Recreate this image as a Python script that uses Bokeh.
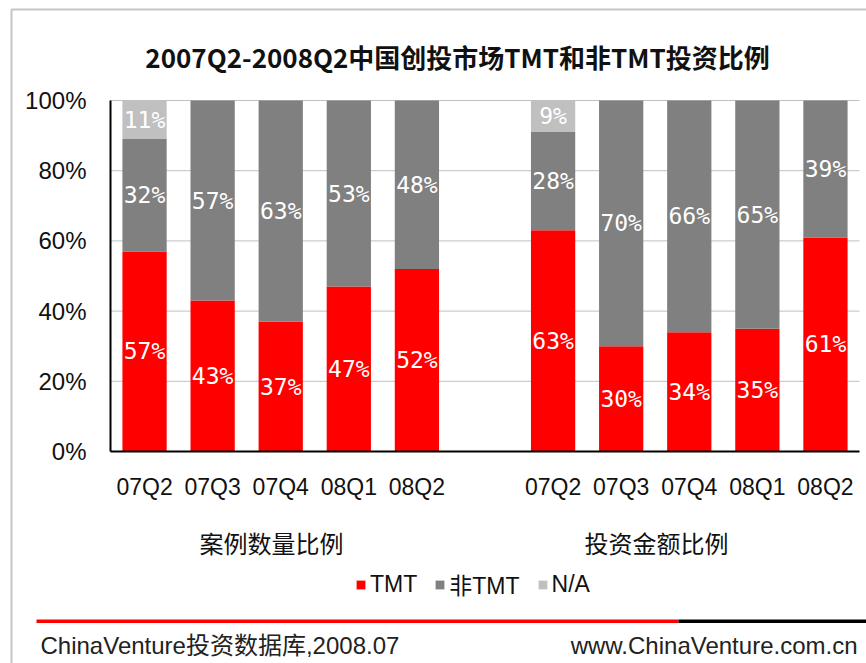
from bokeh.plotting import figure
from bokeh.models import (ColumnDataSource, Range1d, FixedTicker, PrintfTickFormatter,
                          LinearAxis, Legend, LegendItem, Label, BoxAnnotation)
from bokeh.core.properties import value
from bokeh.embed import file_html
from bokeh.resources import INLINE

# ---------------- data ----------------
title = "2007Q2-2008Q2中国创投市场TMT和非TMT投资比例"
quarters = ["07Q2", "07Q3", "07Q4", "08Q1", "08Q2"]
groups = ["案例数量比例", "投资金额比例"]
series_names = ["TMT", "非TMT", "N/A"]

tmt_count = [57, 43, 37, 47, 52]
non_tmt_count = [32, 57, 63, 53, 48]
na_count = [11, 0, 0, 0, 0]

tmt_amount = [63, 30, 34, 35, 61]
non_tmt_amount = [28, 70, 66, 65, 39]
na_amount = [9, 0, 0, 0, 0]

y_ticks = [0, 20, 40, 60, 80, 100]
source_note = "ChinaVenture投资数据库,2008.07"
site_note = "www.ChinaVenture.com.cn"

# ---------------- styles ----------------
RED = "#FF0000"
GRAY = "#808080"
LGRAY = "#C0C0C0"
LATIN = "Liberation Sans, Noto Sans CJK SC"
CJK = "Noto Sans CJK SC"
TXT = "#111111"

W, H = 866, 663
FRAME_L, FRAME_R = 110, 859      # plot area edges (page px)
Y_ZERO, Y_FULL = 451, 100        # 0% and 100% (page px)
N_SLOTS = 11
SLOT = (FRAME_R - FRAME_L) / N_SLOTS
PX_PER_PCT = (Y_ZERO - Y_FULL) / 100.0


def sx(px):
    return (px - FRAME_L) / SLOT - 0.5


def sy(py):
    return (Y_ZERO - py) / PX_PER_PCT


# slot positions: 5 bars, one empty slot, 5 bars
xs = list(range(len(quarters))) + [i + len(quarters) + 1 for i in range(len(quarters))]
tmt = tmt_count + tmt_amount
non = non_tmt_count + non_tmt_amount
na = na_count + na_amount
src = ColumnDataSource(dict(x=xs, tmt=tmt, non=non, na=na))

p = figure(width=W, height=H, output_backend="svg", toolbar_location=None,
           x_range=Range1d(sx(0), sx(W)), y_range=Range1d(sy(H), sy(0)),
           x_axis_location=None, y_axis_location=None,
           min_border_left=0, min_border_right=0, min_border_top=0, min_border_bottom=0)
p.outline_line_color = None
p.background_fill_color = "white"
p.border_fill_color = "white"
p.grid.visible = False

x_lo, x_hi = -0.5, N_SLOTS - 0.5

# horizontal gridlines across the plot area
p.segment(x0=[x_lo] * len(y_ticks), x1=[x_hi] * len(y_ticks), y0=y_ticks, y1=y_ticks,
          line_color="#C0C0C0", line_width=1)

rs = p.vbar_stack(["tmt", "non", "na"], x="x", width=0.65,
                  fill_color=[RED, GRAY, LGRAY], line_color=None, source=src)

# value labels centred in each segment
lx, ly, lt = [], [], []
for i, x in enumerate(xs):
    base = 0
    for vals in (tmt, non, na):
        v = vals[i]
        if v > 0:
            lx.append(x)
            ly.append(base + v / 2.0)
            lt.append(f"{v}%")
        base += v
lsrc = ColumnDataSource(dict(x=lx, y=ly, t=lt))
p.text(x="x", y="y", text="t", source=lsrc, text_color="white",
       text_font=value("DejaVu Sans Mono"), text_font_size="23px",
       text_align="center", text_baseline="middle")

# axes at fixed locations
yax = LinearAxis(fixed_location=x_lo, bounds=(0, 100), ticker=FixedTicker(ticks=y_ticks),
                 formatter=PrintfTickFormatter(format="%d%%"),
                 major_label_standoff=24, major_label_text_font_size="24px")
xax = LinearAxis(fixed_location=0, bounds=(x_lo, x_hi), ticker=FixedTicker(ticks=xs),
                 major_label_overrides={x: q for x, q in zip(xs, quarters * 2)},
                 major_label_standoff=22, major_label_text_font_size="23px")
for ax in (xax, yax):
    ax.axis_line_color = "black"
    ax.axis_line_width = 2
    ax.major_tick_out = 0
    ax.major_tick_in = 0
    ax.minor_tick_out = 0
    ax.minor_tick_in = 0
    ax.major_label_text_font = "Liberation Sans"
    ax.major_label_text_color = TXT
p.add_layout(yax, "left")
p.add_layout(xax, "below")

# title
p.add_layout(Label(x=sx(457), y=sy(56), text=title, text_align="center",
                   text_baseline="middle", text_font=CJK, text_font_style="bold",
                   text_font_size="26px", text_color=TXT))
# group labels
for gx, g in zip((271, 656), groups):
    p.add_layout(Label(x=sx(gx), y=sy(542), text=g, text_align="center",
                       text_baseline="middle", text_font=CJK, text_font_size="24px",
                       text_color=TXT))

# legend
legend = Legend(items=[LegendItem(label=n, renderers=[r]) for n, r in zip(series_names, rs)],
                orientation="horizontal", location=(355, H - 601),
                glyph_width=11, glyph_height=11, label_standoff=4, spacing=17,
                padding=0, margin=0, border_line_color=None,
                background_fill_alpha=0, label_text_font=LATIN,
                label_text_font_size="23px", label_text_color=TXT)
p.add_layout(legend, "center")

# outer frame (top and left edges visible)
p.add_layout(BoxAnnotation(left=sx(11), right=sx(W + 40), top=sy(9), bottom=sy(H + 40),
                           fill_alpha=0, line_color="#404040", line_width=2))
# footer rule
p.add_layout(BoxAnnotation(left=sx(36), right=sx(678), top=sy(619), bottom=sy(622.5),
                           fill_color=RED, fill_alpha=1, line_color=None))
p.add_layout(BoxAnnotation(left=sx(678), right=sx(W + 40), top=sy(619), bottom=sy(622.5),
                           fill_color="black", fill_alpha=1, line_color=None))
# footer texts
p.add_layout(Label(x=sx(40), y=sy(645), text=source_note, text_align="left",
                   text_baseline="middle", text_font=LATIN, text_font_size="24px",
                   text_color="#222222"))
p.add_layout(Label(x=sx(857), y=sy(645), text=site_note, text_align="right",
                   text_baseline="middle", text_font=LATIN, text_font_size="24px",
                   text_color="#222222"))

open("out.html", "w").write(file_html(p, INLINE))
